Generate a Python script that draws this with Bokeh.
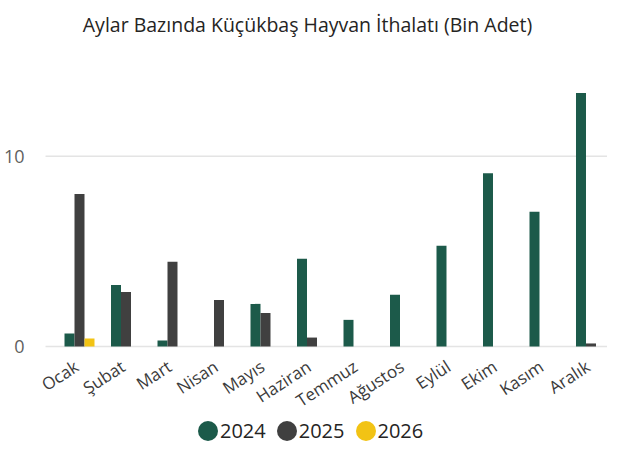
import math
import numpy as np
from bokeh.plotting import figure
from bokeh.models import Range1d, Legend, LegendItem, ColumnDataSource, Label
from bokeh.core.properties import value
from bokeh.embed import file_html
from bokeh.resources import INLINE

months = ["Ocak", "Şubat", "Mart", "Nisan", "Mayıs", "Haziran", "Temmuz",
          "Ağustos", "Eylül", "Ekim", "Kasım", "Aralık"]
years = ["2024", "2025", "2026"]
v2024 = [0.68, 3.23, 0.32, 0.0, 2.24, 4.61, 1.40, 2.72, 5.29, 9.11, 7.08, 13.32]
v2025 = [8.02, 2.87, 4.45, 2.44, 1.76, 0.47, 0.0, 0.0, 0.0, 0.0, 0.0, 0.16]
v2026 = [0.42, 0.0, 0.0, 0.0, 0.0, 0.0, 0.0, 0.0, 0.0, 0.0, 0.0, 0.0]
colors = ["#1C5A4A", "#404040", "#F2C314"]
y_ticks = [0, 10]
y_tick_labels = ["0", "10"]
title_text = "Aylar Bazında Küçükbaş Hayvan İthalatı (Bin Adet)"

FONT = "Open Sans"
bar_w = 0.215
idx = np.arange(len(months))

# layout constants (category units / value units)
X_START, X_END = -1.699, 11.355
Y_START, Y_END = -5.097, 18.182
PLOT_LEFT = -0.731   # left end of the value grid

p = figure(width=607, height=443, output_backend="svg", toolbar_location=None,
           x_range=Range1d(X_START, X_END), y_range=Range1d(Y_START, Y_END),
           min_border_left=0, min_border_right=0, min_border_top=0, min_border_bottom=0)
p.outline_line_color = None
p.title.text = ""
p.title.visible = False
p.xaxis.visible = False
p.yaxis.visible = False
p.grid.visible = False

# value grid + tick labels
n_t = len(y_ticks)
grid_src = ColumnDataSource(dict(x0=[PLOT_LEFT] * n_t, x1=[X_END] * n_t,
                                 y=y_ticks, t=y_tick_labels))
p.segment(x0="x0", x1="x1", y0="y", y1="y", source=grid_src,
          line_color="#E4E4E4", line_width=1.5)
p.text(x="x0", y="y", text="t", source=grid_src, x_offset=-21,
       text_align="right", text_baseline="middle",
       text_font=value(FONT), text_font_size=value("18px"), text_color="#5f5f5f")

# bars
series = [v2024, v2025, v2026]
offsets = [-bar_w, 0.0, bar_w]
for vals, off, col in zip(series, offsets, colors):
    src = ColumnDataSource(dict(x=idx + off, top=vals))
    p.vbar(x="x", top="top", bottom=0, width=bar_w, source=src,
           fill_color=col, line_color=None)

# month labels (category axis), drawn at the zero line
lab_src = ColumnDataSource(dict(x=idx, y=np.zeros(len(months)), t=months))
p.text(x="x", y="y", text="t", source=lab_src, angle=math.radians(33),
       x_offset=-3, y_offset=18, text_align="right", text_baseline="alphabetic",
       text_font=value(FONT), text_font_size=value("17px"), text_color="#3b3b3b")

# legend proxies (circles)
items = []
for yr, col in zip(years, colors):
    r = p.ellipse(x=[np.nan], y=[np.nan], width=20, height=20,
                  width_units="screen", height_units="screen",
                  fill_color=col, line_color=None)
    items.append(LegendItem(label=yr, renderers=[r]))
legend = Legend(items=items, orientation="horizontal", location=(195, -1),
                glyph_width=25, glyph_height=25, label_standoff=0, spacing=8,
                padding=0, margin=0, border_line_color=None, background_fill_alpha=0,
                label_text_font=FONT, label_text_font_size="20px",
                label_text_color="#252423", click_policy="none")
p.add_layout(legend)

# title
p.add_layout(Label(x=307, y=419, x_units="screen", y_units="screen", text=title_text,
                   text_align="center", text_baseline="alphabetic",
                   text_font=FONT, text_font_size="19.5px", text_color="#252423"))

open("out.html", "w").write(file_html(p, INLINE))
